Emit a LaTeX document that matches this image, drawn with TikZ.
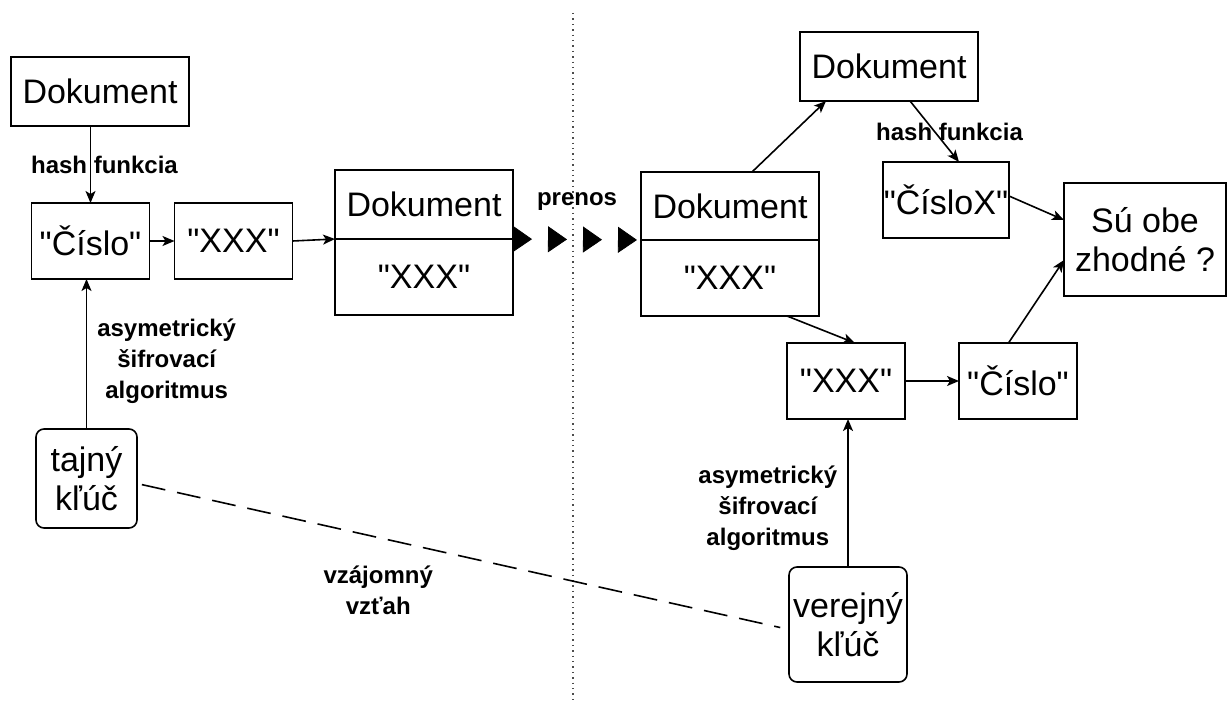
\documentclass[tikz,border=0pt]{standalone}
\usepackage{fontspec}
\setmainfont{Liberation Sans}[Ligatures=TeXOff]
\usetikzlibrary{positioning,arrows.meta,decorations.markings}
\tikzset{
  box/.style={draw, line width=0.8pt, inner sep=0pt, outer sep=0pt, minimum height=38pt,
              font=\fontsize{17}{19.5}\selectfont, align=center},
  wide/.style={box, minimum width=89pt},
  narrow/.style={box, minimum width=59pt},
  key/.style={box, rounded corners=4pt},
  lbl/.style={font=\fontsize{12}{15.5}\selectfont\bfseries, align=center, inner sep=2pt},
  conn/.style={-{Stealth[length=6pt,width=5pt,inset=1.5pt]}, line width=0.8pt},
  transfer/.style={decoration={markings,
      mark=between positions 9.5pt and 63pt step 17.5pt with {\arrow{Triangle[length=9.5pt,width=13pt]}}},
      postaction={decorate}}
}
\begin{document}
\begin{tikzpicture}[x=0.5pt,y=-0.5pt]
\useasboundingbox (0,0) rectangle (1229,700);
% odosielatel
\node[wide, minimum height=34.5pt] (dokA) at (100,91.5) {Dokument};
\node[narrow] (cislo) at (90.5,241) {"Číslo"};
\node[narrow, right=12.5pt of cislo] (xxx) {"XXX"};
\node[wide, minimum height=34.5pt] (prenDok) at (424,204.5) {Dokument};
\node[wide, below=0pt of prenDok] (prenXxx) {"XXX"};
\node[key, minimum width=50.5pt, minimum height=49.5pt] (tajny) at (86.5,478.5) {tajný\\kľúč};
% prijimatel
\node[wide, minimum height=34pt] (recDok) at (730,206) {Dokument};
\node[wide, below=0pt of recDok] (recXxx) {"XXX"};
\node[wide, minimum height=34.5pt] (dokB) at (889,66.5) {Dokument};
\node[box, minimum width=63pt] (cisloX) at (946,200) {"ČísloX"};
\node[box, minimum width=81pt, minimum height=56.5pt] (zhoda) at (1145,239.5) {Sú obe\\zhodné ?};
\node[narrow] (xxxB) at (846,381) {"XXX"};
\node[narrow, right=27pt of xxxB] (cisloB) {"Číslo"};
\node[key, minimum width=59pt, minimum height=57.5pt] (verejny) at (848,624.5) {verejný\\kľúč};
% hranica
\draw[dotted, line width=0.7pt, black!70] (573,13) -- (573,700);

\draw[conn] (dokA.south -| cislo.north) -- node[lbl, xshift=7pt]{hash funkcia} (cislo.north);
\draw[conn] (cislo) -- (xxx);
\draw[conn] (xxx.east) -- (prenDok.south west);
\draw[conn] (tajny.north) -- node[lbl, pos=0.45, right=3pt]{asymetrický\\šifrovací\\algoritmus} (tajny.north |- cislo.south);
\path[transfer] (prenDok.south east) -- node[lbl, yshift=18.75pt]{prenos} (recDok.south west);

\draw[conn] ([xshift=11pt]recDok.north) -- ([xshift=-31.5pt]dokB.south);
\draw[conn] ([xshift=10.5pt]dokB.south) -- node[lbl, xshift=7.5pt]{hash funkcia} ([xshift=6.5pt]cisloX.north);
\draw[conn] ([yshift=2pt]cisloX.east) -- ([yshift=9.75pt]zhoda.west);
\draw[conn] ([xshift=-4.75pt]cisloB.north) -- ([yshift=-10.25pt]zhoda.west);
\draw[conn] ([xshift=28.5pt]recXxx.south) -- ([xshift=4.5pt]xxxB.north);
\draw[conn] (xxxB) -- (cisloB);
\draw[conn] (verejny.north) -- node[lbl, pos=0.4, left=3pt]{asymetrický\\šifrovací\\algoritmus} (verejny.north |- xxxB.south);

\draw[line width=0.8pt, dash pattern=on 12pt off 6pt, shorten <=2.5pt, shorten >=4.5pt]
  ([yshift=-2.5pt]tajny.east) -- node[lbl, pos=0.37, below=12pt]{vzájomný\\vzťah} ([yshift=-2.5pt]verejny.west);
\end{tikzpicture}
\end{document}
